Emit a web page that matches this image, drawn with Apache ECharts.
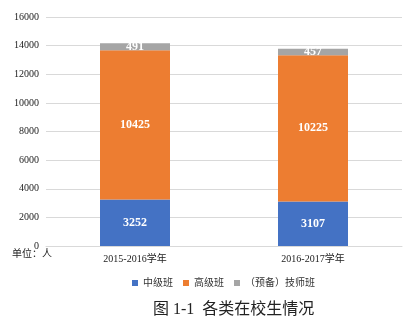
<!DOCTYPE html>
<html>
<head>
<meta charset="utf-8">
<script src="https://cdn.jsdelivr.net/npm/echarts@6/dist/echarts.min.js"></script>
<style>
html,body{margin:0;padding:0;background:#fff;}
#chart{width:416px;height:325px;}
</style>
</head>
<body>
<div id="chart"></div>
<script>
// Enrollment by class type, per school year
const categories = ['2015-2016学年', '2016-2017学年'];
const seriesNames = ['中级班', '高级班', '（预备）技师班'];
const intermediate = [3252, 3107];
const advanced = [10425, 10225];
const technician = [491, 457];
const yTicks = [0, 2000, 4000, 6000, 8000, 10000, 12000, 14000, 16000];

const serif = '"Liberation Serif", "DejaVu Serif", "Noto Sans CJK SC", serif';
const colors = ['#4472C4', '#ED7D31', '#A5A5A5'];

const chart = echarts.init(document.getElementById('chart'));

function barSeries(name, data, color) {
  return {
    name: name,
    type: 'bar',
    stack: 'total',
    data: data,
    barWidth: 70,
    itemStyle: { color: color },
    label: {
      show: true,
      position: 'inside',
      color: '#fff',
      fontFamily: serif,
      fontWeight: 'bold',
      fontSize: 12
    }
  };
}

chart.setOption({
  animation: false,
  color: colors,
  grid: { left: 46, right: 14, top: 17, bottom: 79 },
  title: {
    text: '图 1-1  各类在校生情况',
    left: 148,
    top: 297,
    textStyle: { fontFamily: serif, fontSize: 16, fontWeight: 'normal', color: '#222' }
  },
  legend: {
    data: seriesNames,
    top: 273,
    left: 127,
    itemWidth: 6,
    itemHeight: 6,
    itemGap: 10,
    icon: 'rect',
    textStyle: { fontFamily: serif, fontSize: 10, color: '#333' }
  },
  xAxis: {
    type: 'category',
    data: categories,
    axisTick: { show: false },
    axisLine: { lineStyle: { color: '#d9d9d9' } },
    axisLabel: { fontFamily: serif, fontSize: 10, color: '#222', margin: 8 }
  },
  yAxis: {
    type: 'value',
    min: yTicks[0],
    max: yTicks[yTicks.length - 1],
    interval: 2000,
    axisLine: { show: false },
    axisTick: { show: false },
    splitLine: { lineStyle: { color: '#d9d9d9' } },
    axisLabel: {
      fontFamily: serif,
      fontSize: 10,
      color: '#222',
      margin: 7,
      formatter: function (v) { return String(v); }
    }
  },
  graphic: [{
    type: 'text',
    left: 12,
    top: 249,
    style: { text: '单位：人', font: '10px ' + serif, fill: '#222' }
  }],
  series: [
    barSeries(seriesNames[0], intermediate, colors[0]),
    barSeries(seriesNames[1], advanced, colors[1]),
    barSeries(seriesNames[2], technician, colors[2])
  ]
});
</script>
</body>
</html>
